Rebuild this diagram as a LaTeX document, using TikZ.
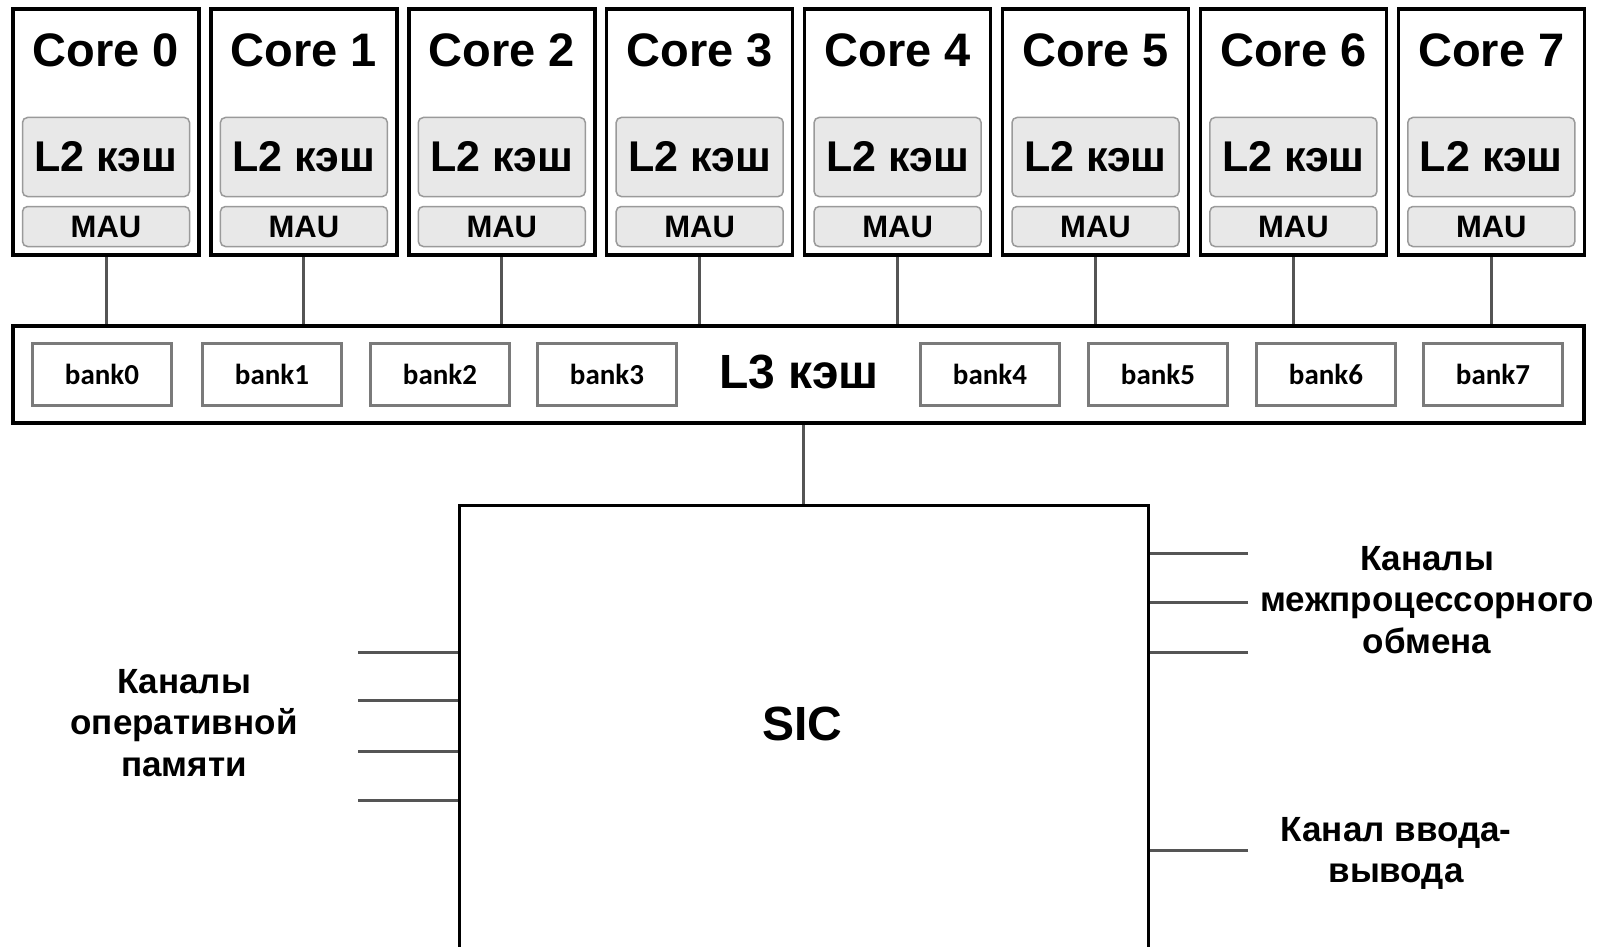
\documentclass[tikz,border=0pt]{standalone}
\usepackage{fontspec}
\setmainfont{Liberation Sans}
\newfontfamily\bankfont{Carlito}
\definecolor{boxfill}{HTML}{E8E8E8}
\definecolor{boxline}{HTML}{9A9A9A}
\definecolor{bankline}{HTML}{7A7A7A}
\definecolor{wire}{HTML}{555555}
\begin{document}
\begin{tikzpicture}[x=1pt,y=-1pt,
  corebox/.style={draw=black, line width=3.5pt, minimum width=186pt, minimum height=246pt, inner sep=0pt},
  coretext/.style={inner sep=0pt, font=\fontsize{47}{50}\selectfont\bfseries},
  l2box/.style={draw=boxline, fill=boxfill, line width=1.5pt, rounded corners=5pt, minimum width=167pt, minimum height=79pt, inner sep=0pt, font=\fontsize{43}{46}\selectfont\bfseries},
  maubox/.style={draw=boxline, fill=boxfill, line width=1.5pt, rounded corners=5pt, minimum width=167pt, minimum height=40pt, inner sep=0pt, font=\fontsize{31}{34}\selectfont\bfseries},
  l3box/.style={draw=black, line width=3.5pt, minimum width=1571pt, minimum height=97pt, inner sep=0pt},
  l3text/.style={inner sep=0pt, font=\fontsize{48}{50}\selectfont\bfseries},
  bankbox/.style={draw=bankline, line width=3.5pt, minimum width=139pt, minimum height=62pt, inner sep=0pt, font=\bankfont\fontsize{29}{32}\selectfont\bfseries},
  sicbox/.style={draw=black, line width=3pt, minimum width=689pt, minimum height=480pt, inner sep=0pt},
  sictext/.style={inner sep=0pt, font=\fontsize{48}{50}\selectfont\bfseries},
  wire/.style={draw=wire, line width=3pt},
  chantext/.style={inner sep=0pt, align=center, font=\fontsize{35}{41.5}\selectfont\bfseries}
]
\useasboundingbox (0,0) rectangle (1606,947);
\clip (0,0) rectangle (1606,947);
\fill[white] (0,0) rectangle (1606,947);

% cores
\foreach \i in {0,...,7} {
  \pgfmathsetmacro\cx{106+197.9*\i}
  \node[corebox] (core\i) at (\cx,132) {};
  \node[coretext, anchor=base] (coret\i) at (\cx,67) {Core \i};
  \node[l2box] (l2\i) at (\cx,157) {L2 кэш};
  \node[maubox] (mau\i) at (\cx,226.5) {MAU};
}

% L3 cache
\node[l3box] (l3) at (798.5,374.5) {};
\node[l3text] (l3t) at (799,372) {L3 кэш};
\foreach \i/\x in {0/102,1/272,2/440,3/607,4/990,5/1158,6/1326,7/1493}
  \node[bankbox] (bank\i) at (\x,374.5) {bank\i};

% core to L3 connectors
\foreach \i in {0,...,7}
  \draw[wire] (core\i.south) -- (core\i.south |- l3.north);

% SIC
\node[sicbox] (sic) at (803.5,745) {};
\node[sictext] (sict) at (802,724) {SIC};
\draw[wire] (sic.north) -- (sic.north |- l3.south);

% memory channels (left)
\foreach \k/\y in {1/652,2/700,3/751,4/800} {
  \coordinate (m\k) at (358,\y);
  \draw[wire] (m\k) -- (m\k -| sic.west);
}
\node[chantext, anchor=north] (memlbl) at (184,669) {Каналы\\оперативной\\памяти};

% interprocessor channels (right)
\foreach \k/\y in {1/553,2/602,3/652} {
  \coordinate (p\k) at (1248,\y);
  \draw[wire] (p\k) -- (p\k -| sic.east);
}
\node[chantext, anchor=north] (iplbl) at (1427,546) {Каналы\\межпроцессорного\\обмена};

% IO channel
\coordinate (io1) at (1248,850);
\draw[wire] (io1) -- (io1 -| sic.east);
\node[chantext, anchor=north] (iolbl) at (1396,817) {Канал ввода-\\вывода};
\end{tikzpicture}
\end{document}
